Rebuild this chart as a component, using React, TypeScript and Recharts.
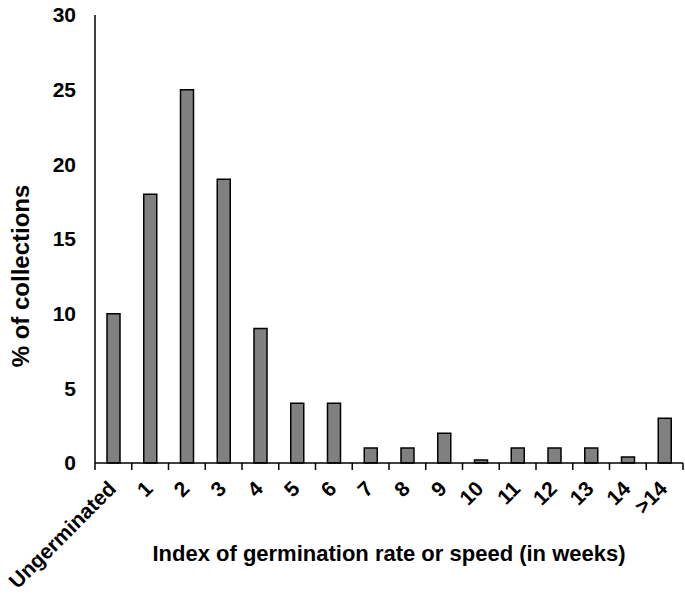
import { BarChart, Bar, XAxis, YAxis, Label } from 'recharts';

const categories = ['Ungerminated', '1', '2', '3', '4', '5', '6', '7', '8', '9', '10', '11', '12', '13', '14', '>14'];
const percents = [10, 18, 25, 19, 9, 4, 4, 1, 1, 2, 0.2, 1, 1, 1, 0.4, 3];
const yTicks = [0, 5, 10, 15, 20, 25, 30];

const W = 685;
const H = 594;
const LEFT = 95;
const RIGHT = 2;
const BAND = (W - LEFT - RIGHT) / categories.length;
const FONT = '"Liberation Sans", Arial, sans-serif';

const data = categories.map((c, i) => ({ cat: c, value: percents[i] }));

function XTick(props: any) {
  const { x, y, payload, index } = props;
  const left = x - BAND / 2;
  const tx = x + 4;
  const ty = y + 27;
  return (
    <g>
      <line x1={left} y1={y} x2={left} y2={y + 7} stroke="#000" strokeWidth={1.5} />
      {index === categories.length - 1 && (
        <line x1={x + BAND / 2} y1={y} x2={x + BAND / 2} y2={y + 7} stroke="#000" strokeWidth={1.5} />
      )}
      <text
        x={tx}
        y={ty}
        transform={`rotate(-45, ${tx}, ${ty})`}
        textAnchor="end"
        fontFamily={FONT}
        fontWeight="bold"
        fontSize={21}
        fill="#000"
      >
        {payload.value}
      </text>
    </g>
  );
}

export default function App() {
  return (
    <div style={{ position: 'absolute', left: 0, top: 0, width: W, height: H, background: '#fff' }}>
      <BarChart
        width={W}
        height={H}
        data={data}
        margin={{ top: 15, right: RIGHT, bottom: 0, left: 0 }}
        barCategoryGap={0}
      >
        <XAxis
          dataKey="cat"
          interval={0}
          tickLine={false}
          tickSize={0}
          tickMargin={0}
          axisLine={{ stroke: '#000', strokeWidth: 1.5 }}
          tick={<XTick />}
          height={131}
        >
          <Label
            value="Index of germination rate or speed (in weeks)"
            position="insideBottom"
            offset={33}
            style={{ fontFamily: FONT, fontWeight: 'bold', fontSize: 22, fill: '#000' }}
          />
        </XAxis>
        <YAxis
          width={LEFT}
          domain={[0, 30]}
          ticks={yTicks}
          interval={0}
          tickLine={false}
          tickSize={18}
          tickMargin={1}
          axisLine={{ stroke: '#000', strokeWidth: 1.5 }}
          tick={{ fontFamily: FONT, fontWeight: 'bold', fontSize: 21, fill: '#000' }}
        >
          <Label
            value="% of collections"
            angle={-90}
            position="insideLeft"
            offset={0}
            dx={20}
            dy={37}
            style={{ fontFamily: FONT, fontWeight: 'bold', fontSize: 24, fill: '#000', textAnchor: 'middle' }}
          />
        </YAxis>
        <Bar dataKey="value" fill="#808080" stroke="#000" strokeWidth={1.5} barSize={13} isAnimationActive={false} />
      </BarChart>
    </div>
  );
}
